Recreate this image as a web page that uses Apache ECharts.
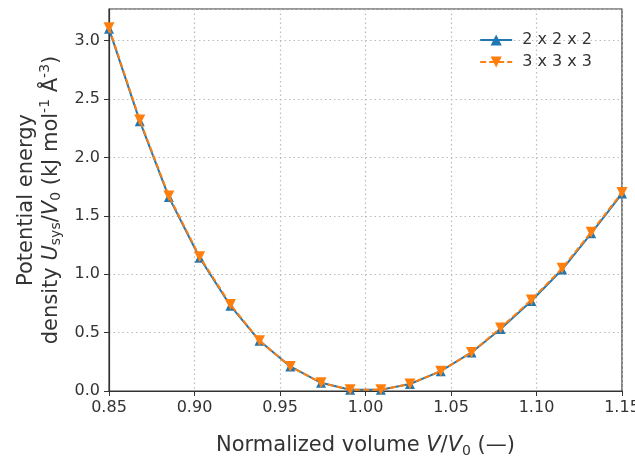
<!DOCTYPE html>
<html><head><meta charset="utf-8">
<script src="https://cdn.jsdelivr.net/npm/echarts@6/dist/echarts.min.js"></script>
<style>html,body{margin:0;padding:0;background:#fff}#c{width:635px;height:457px}</style>
</head><body><div id="c"></div>
<script>
const volume = [0.850, 0.868, 0.885, 0.903, 0.921, 0.938, 0.956, 0.974, 0.991, 1.009, 1.026, 1.044, 1.062, 1.079, 1.097, 1.115, 1.132, 1.150];
const energy222 = [3.10, 2.31, 1.66, 1.14, 0.73, 0.43, 0.21, 0.07, 0.01, 0.01, 0.06, 0.17, 0.33, 0.53, 0.77, 1.04, 1.35, 1.69];
const energy333 = [3.11, 2.32, 1.67, 1.15, 0.74, 0.43, 0.21, 0.07, 0.01, 0.01, 0.06, 0.17, 0.33, 0.54, 0.78, 1.05, 1.36, 1.70];
const seriesNames = ['2 x 2 x 2', '3 x 3 x 3'];
const xTicks = {min: 0.85, max: 1.15, interval: 0.05};
const yTicks = {min: 0, max: 3.27, interval: 0.5};

const FONT = 'DejaVu Sans';
const TXT = '#333333';
const chart = echarts.init(document.getElementById('c'));
const pair = (xs, ys) => xs.map((x, i) => [x, ys[i]]);
chart.setOption({
  animation: false,
  textStyle: {fontFamily: FONT},
  grid: {left: 109, right: 13, top: 9, bottom: 66, containLabel: false, outerBoundsMode: 'none',
         show: true, borderColor: '#333', borderWidth: 1.2, backgroundColor: 'transparent'},
  legend: {
    orient: 'vertical', right: 38, top: 27, itemWidth: 32, itemHeight: 14, itemGap: 6,
    textStyle: {fontFamily: FONT, fontSize: 16, color: TXT, padding: [0, 0, 0, 5]},
    data: seriesNames
  },
  xAxis: {
    type: 'value', min: xTicks.min, max: xTicks.max, interval: xTicks.interval,
    axisLine: {show: true, onZero: false, lineStyle: {color: '#333', width: 1.2}},
    axisTick: {show: true, length: 5, lineStyle: {color: '#333'}},
    axisLabel: {fontSize: 16, color: TXT, margin: 9, formatter: v => v.toFixed(2)},
    splitLine: {show: true, lineStyle: {type: [1.5, 3], color: '#bbbbbb', width: 1.2}},
    name: '{t|Normalized volume }{i|V}{t|/}{i|V}{s|0}{t| (—)}',
    nameLocation: 'middle', nameGap: 43,
    nameTextStyle: {
      rich: {
        t: {fontSize: 21, color: TXT, fontFamily: FONT},
        i: {fontSize: 21, color: TXT, fontFamily: FONT, fontStyle: 'italic'},
        s: {fontSize: 14, color: TXT, fontFamily: FONT, verticalAlign: 'bottom', padding: [10, 0, 0, 0]}
      }
    }
  },
  yAxis: {
    type: 'value', min: yTicks.min, max: yTicks.max, interval: yTicks.interval,
    axisLine: {show: true, onZero: false, lineStyle: {color: '#333', width: 1.2}},
    axisTick: {show: true, length: 5, lineStyle: {color: '#333'}},
    axisLabel: {fontSize: 16, color: TXT, margin: 9, showMaxLabel: false, formatter: v => v.toFixed(1)},
    splitLine: {show: true, lineStyle: {type: [1.5, 3], color: '#bbbbbb', width: 1.2}},
    name: '{t|Potential energy}\n{t|density }{i|U}{s|sys}{t|/}{i|V}{s|0}{t| (kJ mol}{p|-1}{t| Å}{p|-3}{t|)}',
    nameLocation: 'middle', nameRotate: 90, nameGap: 45,
    nameTextStyle: {
      lineHeight: 25,
      rich: {
        t: {fontSize: 21, color: TXT, fontFamily: FONT, lineHeight: 25},
        i: {fontSize: 21, color: TXT, fontFamily: FONT, fontStyle: 'italic', lineHeight: 25},
        s: {fontSize: 14, color: TXT, fontFamily: FONT, verticalAlign: 'bottom', padding: [10, 0, 0, 0], lineHeight: 25},
        p: {fontSize: 14, color: TXT, fontFamily: FONT, verticalAlign: 'top', padding: [0, 0, 10, 0], lineHeight: 25}
      }
    }
  },
  series: [
    {
      name: seriesNames[0], type: 'line', data: pair(volume, energy222),
      symbol: 'triangle', symbolSize: 10,
      lineStyle: {color: '#1f77b4', width: 2},
      itemStyle: {color: '#1f77b4'}, z: 2
    },
    {
      name: seriesNames[1], type: 'line', data: pair(volume, energy333),
      symbol: 'triangle', symbolRotate: 180, symbolSize: 11,
      lineStyle: {color: '#ff7f0e', width: 2, type: [6, 3]},
      itemStyle: {color: '#ff7f0e'}, z: 3
    }
  ]
});
</script></body></html>
